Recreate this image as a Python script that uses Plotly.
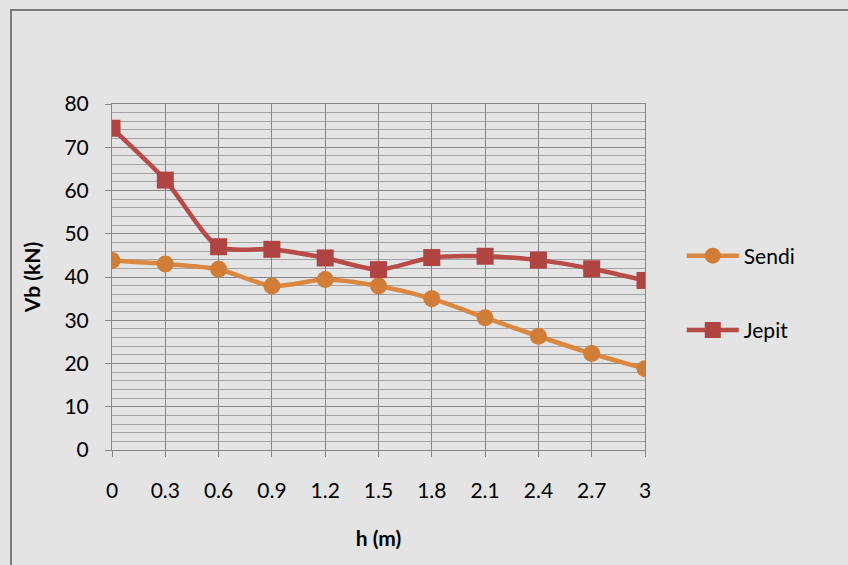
import plotly.graph_objects as go

# Height of the column base h (m) and base shear Vb (kN) for the two support types
h_m = [0, 0.3, 0.6, 0.9, 1.2, 1.5, 1.8, 2.1, 2.4, 2.7, 3]
h_labels = ["0", "0.3", "0.6", "0.9", "1.2", "1.5", "1.8", "2.1", "2.4", "2.7", "3"]
sendi_kn = [43.8, 43.0, 41.8, 37.9, 39.4, 37.9, 35.0, 30.6, 26.3, 22.3, 18.8]
jepit_kn = [74.4, 62.4, 47.0, 46.4, 44.4, 41.7, 44.5, 44.8, 43.9, 41.9, 39.2]
y_ticks = [0, 10, 20, 30, 40, 50, 60, 70, 80]

W, H = 848, 565
M_L, M_R, M_T, M_B = 112, 203, 104, 115
plot_w = W - M_L - M_R
plot_h = H - M_T - M_B

FONT = "Lato, Carlito, Calibri, sans-serif"
GRID_MAJOR = "#878787"
GRID_MINOR = "#a3a3a3"
BG = "#e4e4e4"

fig = go.Figure()

fig.add_trace(go.Scatter(
    x=h_m, y=sendi_kn, name="Sendi", mode="lines+markers",
    line=dict(color="#DB8740", width=4.5, shape="spline", smoothing=0.7),
    marker=dict(symbol="circle", size=17, color="#D27D37"),
    legendgroup="sendi",
))
fig.add_trace(go.Scatter(
    x=h_m, y=jepit_kn, name="Jepit", mode="lines+markers",
    line=dict(color="#B84A48", width=4.5, shape="spline", smoothing=0.7),
    marker=dict(symbol="square", size=17, color="#B04442"),
    legendgroup="jepit",
))

# chart-area frame (left and top edges visible)
fig.add_shape(
    type="rect", xref="paper", yref="paper", layer="below",
    x0=(11 - M_L) / plot_w, x1=1 + (W + 20 - M_L - plot_w) / plot_w,
    y0=-(M_B + 20) / plot_h, y1=1 + (M_T - 10) / plot_h,
    line=dict(color="#7a7a7a", width=2), fillcolor="rgba(0,0,0,0)",
)

fig.update_layout(
    width=W, height=H,
    margin=dict(l=M_L, r=M_R, t=M_T, b=M_B, pad=0),
    paper_bgcolor=BG, plot_bgcolor=BG,
    font=dict(family=FONT, size=21, color="#000000"),
    showlegend=True,
    legend=dict(
        x=1.069, y=0.62, xanchor="left", yanchor="top",
        bgcolor="rgba(0,0,0,0)", borderwidth=0,
        traceorder="grouped", tracegroupgap=44,
        itemwidth=52,
        font=dict(family=FONT, size=21, color="#000000"),
    ),
    xaxis=dict(
        range=[0, 3], tickmode="array", tickvals=h_m, ticktext=h_labels,
        showgrid=True, gridcolor=GRID_MAJOR, gridwidth=1,
        showline=True, linecolor=GRID_MAJOR, linewidth=1, mirror=True,
        ticks="outside", ticklen=6, tickcolor=GRID_MAJOR,
        ticklabelstandoff=16, zeroline=False,
        title=dict(text="<b>h (m)</b>", standoff=30,
                   font=dict(family=FONT, size=21)),
    ),
    yaxis=dict(
        range=[0, 80], tickmode="array", tickvals=y_ticks,
        showgrid=True, gridcolor=GRID_MAJOR, gridwidth=1,
        minor=dict(dtick=2, showgrid=True, gridcolor=GRID_MINOR, gridwidth=1),
        showline=True, linecolor=GRID_MAJOR, linewidth=1, mirror=True,
        ticks="outside", ticklen=6, tickcolor=GRID_MAJOR,
        ticklabelstandoff=12, zeroline=False,
        title=dict(text="<b>Vb (kN)</b>", standoff=18,
                   font=dict(family=FONT, size=21)),
    ),
)

fig.write_html("out.html")
